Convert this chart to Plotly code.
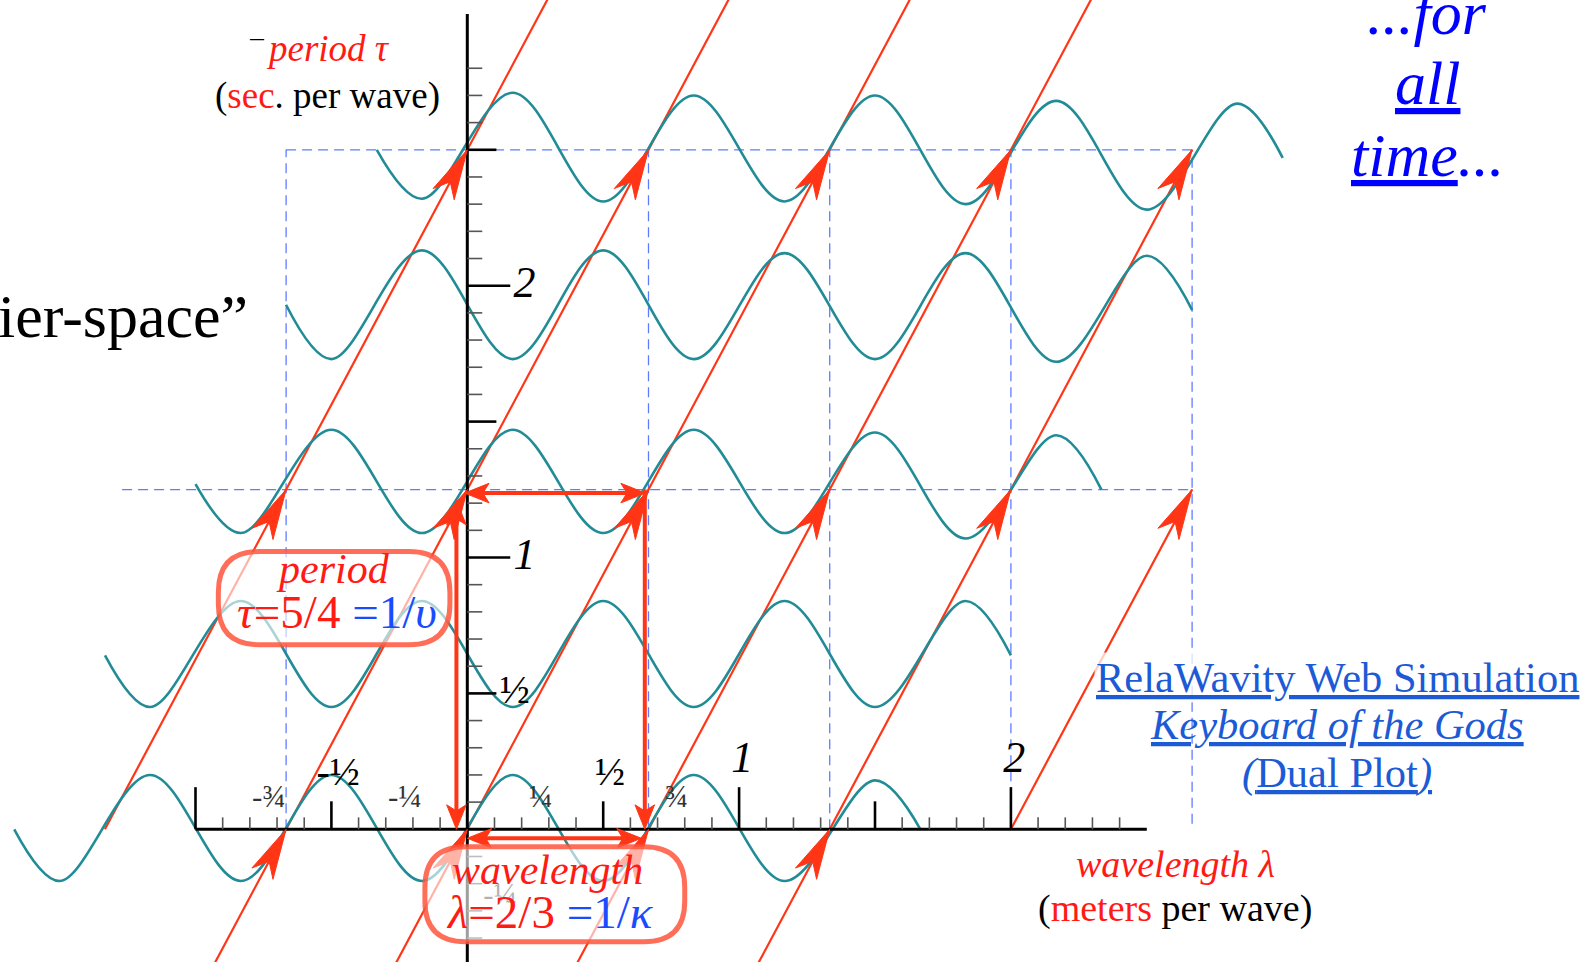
import math
import plotly.graph_objects as go

# ---------------- data ----------------
LAMBDA = 2 / 3          # wavelength (meters per wave)
TAU = 5 / 4             # period (sec. per wave)
SLOPE = TAU / LAMBDA    # phase-line slope

X_RANGE = [-1.7193, 4.1343]
Y_RANGE = [-0.4882, 3.0511]

# wave rows: crossing / trough / peak points (x, y)
WAVE_X = [
    [-1.667, -1.5, -1.167, -0.833, -0.5, -0.167, 0.167, 0.5, 0.833, 1.167, 1.5, 1.667],
    [-1.333, -1.167, -0.833, -0.5, -0.167, 0.167, 0.5, 0.833, 1.167, 1.5, 1.833, 2.0],
    [-1.0, -0.833, -0.5, -0.167, 0.167, 0.5, 0.833, 1.167, 1.5, 1.833, 2.167, 2.333],
    [-0.667, -0.5, -0.167, 0.167, 0.5, 0.833, 1.167, 1.5, 1.833, 2.167, 2.5, 2.667],
    [-0.333, -0.167, 0.167, 0.5, 0.833, 1.167, 1.5, 1.833, 2.167, 2.5, 2.833, 3.0],
]
WAVE_Y = [
    [0.0, -0.19, 0.2, -0.19, 0.2, -0.19, 0.2, -0.19, 0.2, -0.19, 0.18, 0.0],
    [0.64, 0.45, 0.84, 0.45, 0.84, 0.45, 0.84, 0.45, 0.84, 0.45, 0.84, 0.64],
    [1.27, 1.09, 1.47, 1.09, 1.47, 1.09, 1.47, 1.09, 1.46, 1.07, 1.45, 1.25],
    [1.93, 1.73, 2.13, 1.73, 2.13, 1.73, 2.12, 1.73, 2.12, 1.72, 2.11, 1.91],
    [2.5, 2.32, 2.71, 2.31, 2.7, 2.31, 2.7, 2.3, 2.68, 2.28, 2.67, 2.47],
]

# constant-phase lines: x-intercept, start time, end time
LINE_X0 = [-4 / 3, -2 / 3, 0.0, 2 / 3, 4 / 3, 2.0]
LINE_T0 = [0.0, -0.5, -0.5, -0.5, -0.5, 0.0]
LINE_T1 = [3.1, 3.1, 3.1, 3.1, 2.5, 1.25]
ARROW_T = [0.0, 1.25, 2.5]

# dashed grid
DASH_H_Y = [2.5, 1.25]
DASH_H_X0 = [-2 / 3, -1.27]
DASH_H_X1 = [8 / 3, 8 / 3]
DASH_V_X = [-2 / 3, 0.0, 2 / 3, 4 / 3, 2.0, 8 / 3]
DASH_V_Y0 = [0.0, 0.0, 0.0, 0.0, 0.0, 0.02]
DASH_V_Y1 = [2.5, 2.5, 2.5, 2.5, 2.5, 2.5]

# thick tau / lambda arrows
TA_X0 = [-0.04, 0.653, -0.01, 0.0]
TA_Y0 = [0.0, 1.25, 1.237, -0.033]
TA_X1 = [-0.04, 0.653, 0.655, 0.64]
TA_Y1 = [1.21, 0.0, 1.237, -0.033]
TA_BOTH = [True, False, True, True]

# axes ticks
X_TICKS = [round(-1.0 + 0.1 * i, 1) for i in range(35)]
X_MAJOR = [-1.0, 1.0, 2.0]
X_MEDIUM = [-0.5, 0.5, 1.5]
Y_TICKS = [round(-0.4 + 0.1 * i, 1) for i in range(33)]
Y_MAJOR = [1.0, 2.0]
Y_MEDIUM = [0.5, 1.5, 2.5]

X_SMALL_LABEL_VALUES = [-0.75, -0.25, 0.25, 0.75]
X_SMALL_LABELS = ["-¾", "-¼", "¼", "¾"]
X_HALF_LABEL_VALUES = [-0.5, 0.5]
X_HALF_LABELS = ["-½", "½"]
X_INT_LABEL_VALUES = [1, 2]
X_INT_LABELS = ["1", "2"]
Y_INT_LABEL_VALUES = [2, 1]
Y_INT_LABELS = ["2", "1"]
Y_HALF_LABEL_VALUES = [0.5]
Y_HALF_LABELS = ["½"]
Y_SMALL_LABEL_VALUES = [-0.25]
Y_SMALL_LABELS = ["-¼"]

# ---------------- styles ----------------
FONT = "Liberation Serif"
RED = "#ff3516"
TXT_RED = "#ff1a14"
TEAL = "#218c96"
BLUE_DASH = "rgba(40,80,255,0.75)"
TXT_BLUE = "#1a4cff"
LINK_BLUE = "#1c5ad6"

fig = go.Figure()


def seg_trace(xs, ys, color, width, dash=None):
    fig.add_trace(go.Scatter(x=xs, y=ys, mode="lines", hoverinfo="skip",
                             line=dict(color=color, width=width, dash=dash)))


# dashed grid
dx, dy = [], []
for yv, a, b in zip(DASH_H_Y, DASH_H_X0, DASH_H_X1):
    dx += [a, b, None]
    dy += [yv, yv, None]
for xv, a, b in zip(DASH_V_X, DASH_V_Y0, DASH_V_Y1):
    dx += [xv, xv, None]
    dy += [a, b, None]
seg_trace(dx, dy, BLUE_DASH, 1.3, "10px,6px")

# constant-phase lines
lx, ly = [], []
for x0, t0, t1 in zip(LINE_X0, LINE_T0, LINE_T1):
    lx += [x0 + t0 / SLOPE, x0 + t1 / SLOPE, None]
    ly += [t0, t1, None]
seg_trace(lx, ly, RED, 2.2)

# waves
for wx, wy in zip(WAVE_X, WAVE_Y):
    fig.add_trace(go.Scatter(x=wx, y=wy, mode="lines", hoverinfo="skip",
                             line=dict(color=TEAL, width=2.6, shape="spline", smoothing=1.0)))

# axes
seg_trace([-1.0, 2.5, None, 0.0, 0.0], [0.0, 0.0, None, -0.5, 3.0], "black", 3)
mx, my, Mx, My = [], [], [], []
for t in X_TICKS:
    if abs(t) < 1e-9:
        continue
    if t in X_MAJOR:
        Mx += [t, t, None]; My += [0, 0.155, None]
    elif t in X_MEDIUM:
        Mx += [t, t, None]; My += [0, 0.103, None]
    else:
        mx += [t, t, None]; my += [0, 0.044, None]
for t in Y_TICKS:
    if abs(t) < 1e-9:
        continue
    if t in Y_MAJOR:
        Mx += [0, 0.158, None]; My += [t, t, None]
    elif t in Y_MEDIUM:
        Mx += [0, 0.107, None]; My += [t, t, None]
    else:
        mx += [0, 0.055, None]; my += [t, t, None]
seg_trace(mx, my, "#555555", 1.6)
seg_trace(Mx, My, "black", 2.6)


def head_poly(xt, yt, ux, uy, L, W, notch):
    px, py = -uy, ux
    bx, by = xt - L * ux, yt - L * uy
    nx, ny = xt - notch * L * ux, yt - notch * L * uy
    return ([xt, bx + W * px, nx, bx - W * px, xt, None],
            [yt, by + W * py, ny, by - W * py, yt, None])


hx, hy = [], []
# thick arrows
sx, sy = [], []
TL, TW = 0.09, 0.036
for x0, y0, x1, y1, both in zip(TA_X0, TA_Y0, TA_X1, TA_Y1, TA_BOTH):
    n = math.hypot(x1 - x0, y1 - y0)
    ux, uy = (x1 - x0) / n, (y1 - y0) / n
    a0 = (x0 + 0.5 * TL * ux, y0 + 0.5 * TL * uy) if both else (x0, y0)
    a1 = (x1 - 0.5 * TL * ux, y1 - 0.5 * TL * uy)
    sx += [a0[0], a1[0], None]
    sy += [a0[1], a1[1], None]
    px_, py_ = head_poly(x1, y1, ux, uy, TL, TW, 0.75)
    hx += px_; hy += py_
    if both:
        px_, py_ = head_poly(x0, y0, -ux, -uy, TL, TW, 0.75)
        hx += px_; hy += py_
seg_trace(sx, sy, RED, 4)

# phase-line arrowheads
n = math.hypot(1, SLOPE)
ux, uy = 1 / n, SLOPE / n
for x0, t0, t1 in zip(LINE_X0, LINE_T0, LINE_T1):
    for t in ARROW_T:
        if t0 < t <= t1 + 1e-9:
            px_, py_ = head_poly(x0 + t / SLOPE, t, ux, uy, 0.185, 0.044, 0.72)
            hx += px_; hy += py_
fig.add_trace(go.Scatter(x=hx, y=hy, mode="lines", fill="toself", fillcolor=RED,
                         line=dict(color=RED, width=1), hoverinfo="skip"))


def text_trace(xs, ys, labels, size, color, italic=False):
    fig.add_trace(go.Scatter(x=xs, y=ys, text=labels, mode="text", hoverinfo="skip",
                             textposition="middle center",
                             textfont=dict(family=FONT, size=size, color=color,
                                           style="italic" if italic else "normal")))


text_trace([v + 0.02 for v in X_SMALL_LABEL_VALUES], [0.11] * len(X_SMALL_LABELS),
           X_SMALL_LABELS, 31, "#333333")
text_trace([v + 0.025 for v in X_HALF_LABEL_VALUES], [0.2] * len(X_HALF_LABELS),
           X_HALF_LABELS, 40, "black")
text_trace([v + 0.012 for v in X_INT_LABEL_VALUES], [0.25] * len(X_INT_LABELS),
           X_INT_LABELS, 44, "black", italic=True)
text_trace([0.21] * len(Y_INT_LABELS), Y_INT_LABEL_VALUES, Y_INT_LABELS, 44, "black", italic=True)
text_trace([0.175] * len(Y_HALF_LABELS), Y_HALF_LABEL_VALUES, Y_HALF_LABELS, 40, "black")
text_trace([0.12] * len(Y_SMALL_LABELS), Y_SMALL_LABEL_VALUES, Y_SMALL_LABELS, 31, "#333333")


# rounded label boxes
def rbox(x0, y0, x1, y1, r):
    return (f"M {x0 + r},{y0} L {x1 - r},{y0} Q {x1},{y0} {x1},{y0 + r} "
            f"L {x1},{y1 - r} Q {x1},{y1} {x1 - r},{y1} L {x0 + r},{y1} "
            f"Q {x0},{y1} {x0},{y1 - r} L {x0},{y0 + r} Q {x0},{y0} {x0 + r},{y0} Z")


for bx in [(-0.916, 0.679, -0.064, 1.022), (-0.156, -0.414, 0.80, -0.064)]:
    fig.add_shape(type="path", path=rbox(*bx, 0.15), layer="above",
                  line=dict(color="rgba(255,85,60,0.85)", width=5),
                  fillcolor="rgba(255,255,255,0.62)")


def note(x, y, text, size, color="black", xanchor="center", **kw):
    fig.add_annotation(x=x, y=y, xref="x", yref="y", text=text, showarrow=False,
                       xanchor=xanchor, yanchor="middle",
                       font=dict(family=FONT, size=size, color=color), **kw)


note(-0.775, 2.85, "‾", 36, "black")
note(-0.513, 2.874, "<i>period τ</i>", 37, TXT_RED)
note(-0.513, 2.697, f'(<span style="color:{TXT_RED}">sec</span>. per wave)', 37)

note(3.531, 3.003, "<i>...for</i>", 62, "#0000ff")
note(3.531, 2.745, "<i><u>all</u></i>", 62, "#0000ff")
note(3.531, 2.48, "<i><u>time</u>...</i>", 62, "#0000ff")

note(-0.80, 1.89, "ier-space”", 62, "black", xanchor="right")

note(-0.494, 0.958, "<i>period</i>", 42, TXT_RED)
note(-0.481, 0.80, f'<i>τ</i>=5/4 <span style="color:{TXT_BLUE}">=1/<i>υ</i></span>', 47, TXT_RED)

note(0.294, -0.15, "<i>wavelength</i>", 42, TXT_RED)
note(0.306, -0.304, f'<i>λ</i>=2/3 <span style="color:{TXT_BLUE}">=1/<i>κ</i></span>', 47, TXT_RED)

note(3.2, 0.557, "<u>RelaWavity Web Simulation</u>", 42.5, LINK_BLUE,
     bgcolor="rgba(255,255,255,0.75)")
note(3.2, 0.384, "<u><i>Keyboard of the Gods</i></u>", 42.5, LINK_BLUE)
note(3.2, 0.207, "<u><i>(</i>Dual Plot<i>)</i></u>", 42.5, LINK_BLUE)

note(2.605, -0.127, "<i>wavelength λ</i>", 38, TXT_RED)
note(2.605, -0.29, f'(<span style="color:{TXT_RED}">meters</span> per wave)', 38)

fig.update_layout(
    width=1591, height=962,
    margin=dict(l=0, r=0, t=0, b=0),
    paper_bgcolor="white", plot_bgcolor="white",
    showlegend=False, hovermode=False,
    xaxis=dict(range=X_RANGE, visible=False, fixedrange=True),
    yaxis=dict(range=Y_RANGE, visible=False, fixedrange=True),
)

fig.write_html("out.html", config={"displayModeBar": False},
               post_script="document.body.style.margin='0';document.body.style.overflow='hidden';")
